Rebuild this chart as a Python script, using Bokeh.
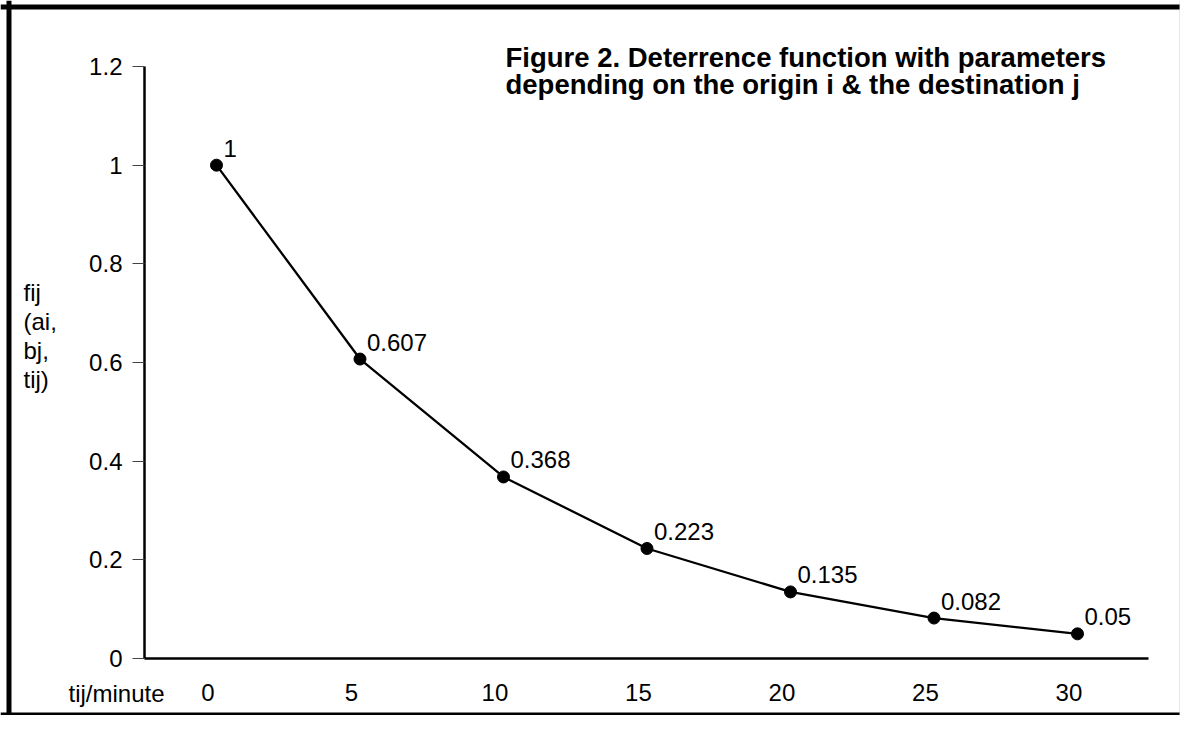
from bokeh.plotting import figure
from bokeh.models import Range1d, FixedTicker, Label, Span
from bokeh.core.properties import value
from bokeh.embed import file_html
from bokeh.resources import INLINE

# ---- data ----
t_minutes = [0, 5, 10, 15, 20, 25, 30]
f_values = [1, 0.607, 0.368, 0.223, 0.135, 0.082, 0.05]
point_labels = ["1", "0.607", "0.368", "0.223", "0.135", "0.082", "0.05"]
y_ticks = [0, 0.2, 0.4, 0.6, 0.8, 1.0, 1.2]
y_tick_labels = ["0", "0.2", "0.4", "0.6", "0.8", "1", "1.2"]
x_tick_labels = ["0", "5", "10", "15", "20", "25", "30"]
title_lines = ["Figure 2. Deterrence function with parameters",
               "depending on the origin i & the destination j"]
y_title_lines = ["fij", "(ai,", "bj,", "tij)"]
x_title = "tij/minute"

FONT = "Liberation Sans"
FS = "24px"

# view window (frame covers the whole canvas; axes are placed with fixed_location)
X0, X1 = -7.526, 33.589
Y0, Y1 = -0.11554, 1.3338
Y_AXIS_AT = -2.509   # where the y axis crosses
X_AXIS_END = 32.474
BORDER_X = -7.230
BORDER_Y = 1.3206

p = figure(width=1180, height=715,
           x_range=Range1d(X0, X1), y_range=Range1d(Y0, Y1),
           output_backend="svg", toolbar_location=None,
           min_border=0, min_border_left=0, min_border_right=0,
           min_border_top=0, min_border_bottom=0)
p.outline_line_color = None
p.xgrid.visible = False
p.ygrid.visible = False
p.background_fill_color = "white"
p.border_fill_color = "white"

# page frame lines
p.add_layout(Span(location=BORDER_X, dimension="height", line_color="black", line_width=5))
p.add_layout(Span(location=BORDER_Y, dimension="width", line_color="black", line_width=5))
p.add_layout(Span(location=Y0, dimension="width", line_color="black", line_width=6))
p.add_layout(Span(location=X1, dimension="height", line_color="#d0d0d0", line_width=2))

# y axis
ya = p.yaxis[0]
ya.fixed_location = Y_AXIS_AT
ya.bounds = (y_ticks[0], y_ticks[-1])
ya.ticker = FixedTicker(ticks=y_ticks)
ya.major_label_overrides = {float(t): lab for t, lab in zip(y_ticks, y_tick_labels)}
ya.axis_line_color = "black"
ya.axis_line_width = 2.5
ya.major_tick_out = 12
ya.major_tick_in = 0
ya.major_tick_line_color = "#444444"
ya.major_tick_line_width = 1
ya.minor_tick_out = 0
ya.minor_tick_in = 0
ya.major_label_standoff = 10
ya.major_label_text_font = FONT
ya.major_label_text_font_size = FS
ya.major_label_text_color = "black"

# x axis (labels sit slightly left of their points in the reference)
shift = 0.3
xa = p.xaxis[0]
xa.fixed_location = 0
xa.bounds = (Y_AXIS_AT, X_AXIS_END)
x_tick_pos = [t - shift for t in t_minutes]
xa.ticker = FixedTicker(ticks=x_tick_pos)
xa.major_label_overrides = {float(t): lab for t, lab in zip(x_tick_pos, x_tick_labels)}
xa.axis_line_color = "black"
xa.axis_line_width = 2.5
xa.major_tick_out = 0
xa.major_tick_in = 0
xa.minor_tick_out = 0
xa.minor_tick_in = 0
xa.major_label_standoff = 25
xa.major_label_text_font = FONT
xa.major_label_text_font_size = FS
xa.major_label_text_color = "black"

# series
p.line(t_minutes, f_values, line_color="black", line_width=2.3)
p.scatter(t_minutes, f_values, size=12, fill_color="black", line_color="black")
p.text(t_minutes, f_values, text=point_labels, x_offset=7, y_offset=-17,
       text_font=value(FONT), text_font_size=FS, text_color="black",
       text_baseline="middle", text_align="left")

# title
for ty, line in zip([1.2173, 1.1636], title_lines):
    p.add_layout(Label(x=10.07, y=ty, text=line, text_font=FONT,
                       text_font_size="27.5px", text_font_style="bold",
                       text_color="black", text_baseline="middle"))

# y-axis title (stacked)
for ty, line in zip([0.7427, 0.6839, 0.6252, 0.5664], y_title_lines):
    p.add_layout(Label(x=-6.725, y=ty, text=line, text_font=FONT,
                       text_font_size=FS, text_color="black",
                       text_baseline="middle"))

# x-axis title left of the tick labels
p.add_layout(Label(x=-5.157, y=-0.0709, text=x_title, text_font=FONT,
                   text_font_size=FS, text_color="black",
                   text_baseline="middle"))

open("out.html", "w").write(file_html(p, INLINE))
